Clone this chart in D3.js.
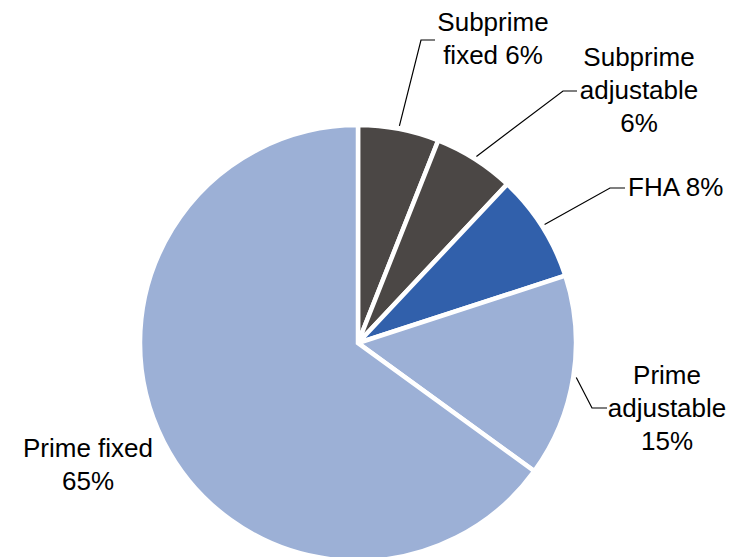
<!DOCTYPE html>
<html><head><meta charset="utf-8">
<script src="https://cdn.jsdelivr.net/npm/d3@7"></script>
<style>html,body{margin:0;padding:0;background:#fff;}svg{display:block;}</style>
</head><body>
<svg id="chart" width="744" height="557"></svg>
<script>
const categories = ["Subprime fixed", "Subprime adjustable", "FHA", "Prime adjustable", "Prime fixed"];
const values = [6, 6, 8, 15, 65];
const labelLines = [
  ["Subprime", "fixed 6%"],
  ["Subprime", "adjustable", "6%"],
  ["FHA 8%"],
  ["Prime", "adjustable", "15%"],
  ["Prime fixed", "65%"]
];
const colors = ["#4b4745", "#4b4745", "#3160ab", "#9cb0d6", "#9cb0d6"];

// layout (label placement)
const layout = [
  {elbow:[421,40], end:[435,40], x:493, y:31, anchor:"middle"},
  {elbow:[563,91], end:[577,91], x:639, y:66, anchor:"middle"},
  {elbow:[610,188], end:[625,188], x:628, y:196, anchor:"start"},
  {elbow:[592,408], end:[607,408], x:667, y:384, anchor:"middle"},
  {elbow:null, end:null, x:88, y:457, anchor:"middle"}
];

const svg = d3.select("#chart");
const cx = 358, cy = 343, r = 218;
const g = svg.append("g").attr("transform", `translate(${cx},${cy})`);

const pie = d3.pie().sort(null).value(d => d.v);
const data = pie(categories.map((c, i) => ({c, v: values[i], i})));
const arc = d3.arc().innerRadius(0).outerRadius(r);

g.selectAll("path.slice").data(data).enter().append("path")
  .attr("class", "slice")
  .attr("d", arc)
  .attr("fill", d => colors[d.data.i])
  .attr("stroke", "#fff")
  .attr("stroke-width", 4.5)
  .attr("stroke-linejoin", "miter");

// leader lines
data.forEach(d => {
  const L = layout[d.data.i];
  if (!L.elbow) return;
  const a = (d.startAngle + d.endAngle) / 2;
  const rr = r + 3;
  const sx = cx + rr * Math.sin(a), sy = cy - rr * Math.cos(a);
  svg.append("polyline")
    .attr("points", [[sx, sy], L.elbow, L.end].map(p => p.join(",")).join(" "))
    .attr("fill", "none").attr("stroke", "#000").attr("stroke-width", 1.2);
});

// labels
data.forEach(d => {
  const L = layout[d.data.i];
  const t = svg.append("text")
    .attr("x", L.x).attr("y", L.y)
    .attr("text-anchor", L.anchor)
    .attr("font-family", "Liberation Sans, Arial, sans-serif")
    .attr("font-size", 26)
    .attr("fill", "#000");
  labelLines[d.data.i].forEach((ln, k) => {
    t.append("tspan").attr("x", L.x).attr("dy", k === 0 ? 0 : 33).text(ln);
  });
});
</script>
</body></html>
